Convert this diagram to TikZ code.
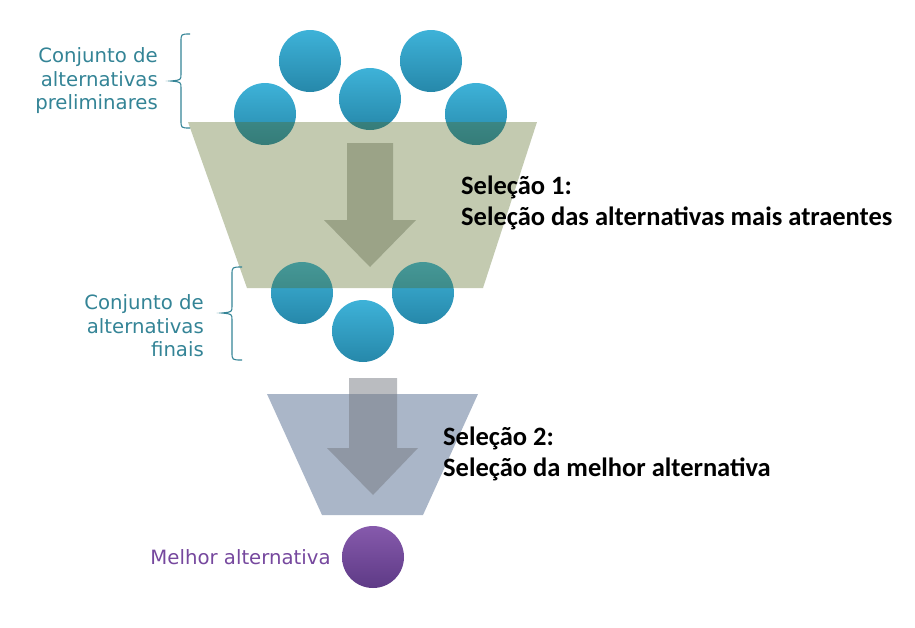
\documentclass[tikz,border=0pt]{standalone}
\usepackage{fontspec}
\usepackage{xcolor}
\usepackage{tikz}
\usetikzlibrary{positioning}

\newfontfamily\labelfont{DejaVu Sans}
\newfontfamily\stepfont{Carlito}

\definecolor{ballTop}{RGB}{62,178,216}
\definecolor{ballBottom}{RGB}{38,136,170}
\definecolor{bestTop}{RGB}{134,90,172}
\definecolor{bestBottom}{RGB}{94,58,134}
\definecolor{labelTeal}{RGB}{52,132,150}
\definecolor{labelPurple}{RGB}{118,72,158}
\definecolor{funnelOlive}{RGB}{82,103,30}
\definecolor{funnelBlue}{RGB}{170,182,200}
\definecolor{arrowOlive}{RGB}{155,163,135}
\definecolor{arrowGray}{RGB}{118,122,130}

\tikzset{
  ball/.style={circle, minimum size=62pt, inner sep=0pt, top color=ballTop, bottom color=ballBottom},
  bestball/.style={circle, minimum size=62pt, inner sep=0pt, top color=bestTop, bottom color=bestBottom},
  bracket/.style={draw=labelTeal, line width=1.1pt},
  setlabel/.style={font=\labelfont\fontsize{19.7}{23.5}\selectfont, text=labelTeal, align=right, inner sep=0pt},
  steplabel/.style={font=\stepfont\bfseries\fontsize{26.5}{31}\selectfont, align=left, anchor=west, inner sep=0pt}
}

\begin{document}
\begin{tikzpicture}[x=1pt,y=1pt,yscale=-1,xscale=1]

\useasboundingbox (0,0) rectangle (915,627);

% preliminary alternatives
\node[ball] (p1) at (310,61) {};
\node[ball] (p2) at (431,61) {};
\node[ball] (p3) at (265,114) {};
\node[ball] (p4) at (370,99) {};
\node[ball] (p5) at (476,114) {};

% final alternatives
\node[ball] (f1) at (302,293) {};
\node[ball] (f2) at (423,293) {};
\node[ball] (f3) at (363,331) {};

% funnel 1
\fill[funnelOlive, fill opacity=0.35] (188,122) -- (537,122) -- (483,288) -- (247,288) -- cycle ;
\fill[arrowOlive] (347,143) -- (393,143) -- (393,220) -- (416,220) -- (370,267) -- (324,220) -- (347,220) -- cycle ;

% funnel 2
\fill[funnelBlue] (267,394) -- (478,394) -- (423,515) -- (322,515) -- cycle ;
\fill[arrowGray, fill opacity=0.5] (349,378) -- (397,378) -- (397,448) -- (418,448) -- (373,495) -- (327,448) -- (349,448) -- cycle ;

% best alternative
\node[bestball] (best) at (373,557) {};

% brackets
\coordinate (tip1) at (171,81);
\coordinate (tip2) at (222,313);
\draw[bracket] (190,34) .. controls (181,34) .. (181,42) -- (181,74) .. controls (181,80) .. (tip1) .. controls (181,82) .. (181,88) -- (181,120) .. controls (181,128) .. (190,128);
\draw[bracket] (242,267) .. controls (232,267) .. (232,275) -- (232,306) .. controls (232,312) .. (tip2) .. controls (232,314) .. (232,320) -- (232,352) .. controls (232,360) .. (242,360);

% labels
\node[setlabel, left=13pt of tip1] (prelim) {Conjunto de\\alternativas\\preliminares};
\node[setlabel, left=18pt of tip2, yshift=-13pt] (final) {Conjunto de\\alternativas\\finais};
\node[setlabel, text=labelPurple, left=11pt of best] (bestlabel) {Melhor alternativa};

\node[steplabel] (sel1) at (461,203) {Seleção 1:\\Seleção das alternativas mais atraentes};
\node[steplabel] (sel2) at (443,454) {Seleção 2:\\Seleção da melhor alternativa};

\end{tikzpicture}
\end{document}
